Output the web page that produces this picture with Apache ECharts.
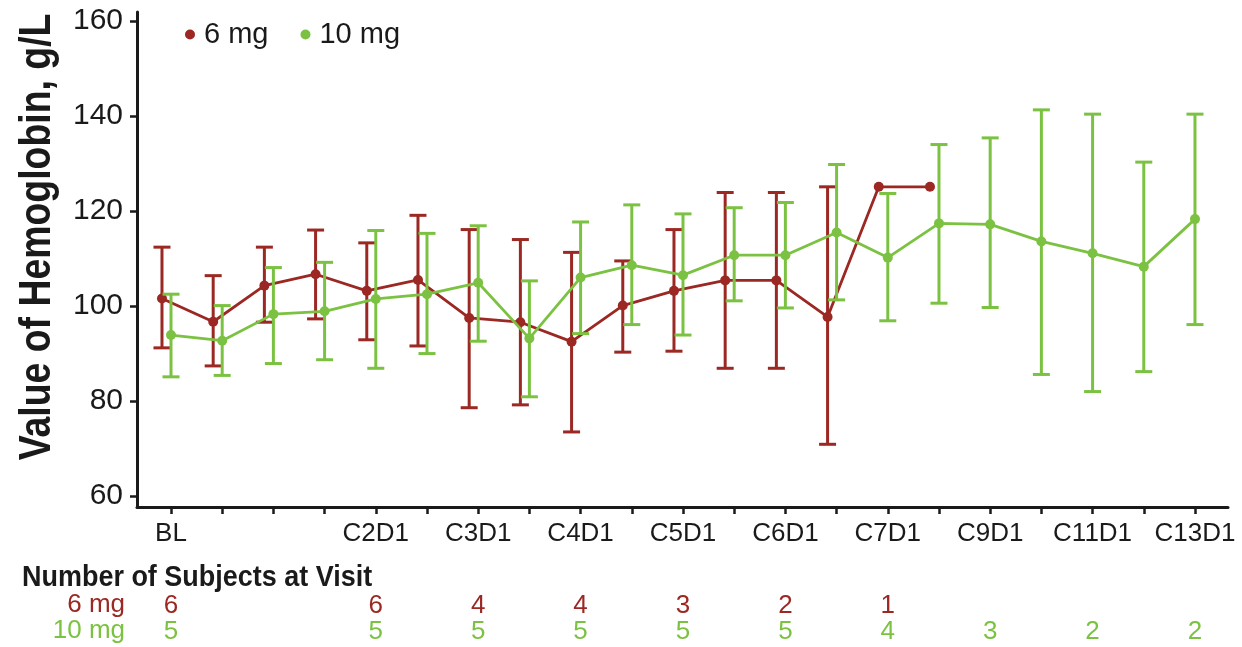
<!DOCTYPE html>
<html><head><meta charset="utf-8">
<script src="https://cdn.jsdelivr.net/npm/echarts@6/dist/echarts.min.js"></script>
<style>html,body{margin:0;padding:0;background:#fff}#c{width:1242px;height:647px}</style>
</head><body><div id="c"></div>
<script>
var visits = ['BL','C1D8','C1D15','C1D22','C2D1','C2D15','C3D1','C3D15','C4D1','C4D15','C5D1','C5D15','C6D1','C6D15','C7D1','C8D1','C9D1','C10D1','C11D1','C12D1','C13D1'];
var labeledVisits = [0,4,6,8,10,12,14,16,18,20];
var yTicks = [60,80,100,120,140,160];

var mean6 = [101.6, 96.7, 104.3, 106.7, 103.2, 105.5, 97.5, 96.6, 92.5, 100.1, 103.2, 105.4, 105.4, 97.7, 125.1, 125.1];
var low6  = [91.2, 87.4, 96.6, 97.3, 92.9, 91.6, 78.6, 79.2, 73.5, 90.3, 90.5, 86.9, 86.9, 70.9, null, null];
var high6 = [112.4, 106.4, 112.4, 116.0, 113.3, 119.1, 116.1, 114.0, 111.3, 109.5, 116.1, 123.9, 123.9, 125.1, null, null];

var mean10 = [93.9, 92.7, 98.3, 98.9, 101.5, 102.5, 104.9, 93.2, 106.0, 108.6, 106.5, 110.7, 110.7, 115.5, 110.2, 117.4, 117.2, 113.6, 111.1, 108.3, 118.3];
var low10  = [85.1, 85.4, 87.9, 88.7, 86.9, 90.0, 92.6, 80.9, 94.2, 96.1, 93.9, 101.1, 99.6, 101.3, 96.9, 100.6, 99.7, 85.6, 82.0, 86.2, 96.1];
var high10 = [102.5, 100.1, 108.1, 109.2, 115.9, 115.3, 116.9, 105.3, 117.7, 121.3, 119.4, 120.7, 121.8, 129.8, 123.7, 134.0, 135.4, 141.3, 140.4, 130.3, 140.4];

var nVisits6 = [0,4,6,8,10,12,14];
var n6 = [6,6,4,4,3,2,1];
var nVisits10 = [0,4,6,8,10,12,14,16,18,20];
var n10 = [5,5,5,5,5,5,4,3,2,2];

var RED = '#9b2823', GREEN = '#7cc242', INK = '#1a1a1a';
var FONT = '"Liberation Sans",Arial,sans-serif';
var OFF6 = -0.176, OFF10 = 0;

function pts(mean, off){ return mean.map(function(v,i){ return [i+off, v]; }); }
function bars(lo, hi, off){ var r=[]; lo.forEach(function(v,i){ if(v!=null && hi[i]!=null) r.push([i+off, v, hi[i]]); }); return r; }

function errRender(color){
  return function(params, api){
    var x = api.value(0);
    var p1 = api.coord([x, api.value(1)]);
    var p2 = api.coord([x, api.value(2)]);
    var hw = 8.5;
    var st = {stroke: color, lineWidth: 3};
    return {type:'group', children:[
      {type:'line', shape:{x1:p1[0], y1:p1[1], x2:p2[0], y2:p2[1]}, style:st},
      {type:'line', shape:{x1:p1[0]-hw, y1:p1[1], x2:p1[0]+hw, y2:p1[1]}, style:st},
      {type:'line', shape:{x1:p2[0]-hw, y1:p2[1], x2:p2[0]+hw, y2:p2[1]}, style:st}
    ]};
  };
}

var XMIN = -0.664, XMAX = 20.645;
function countAxis(offset, vis, counts, color){
  return {
    type:'value', min:XMIN, max:XMAX, position:'bottom', offset:offset,
    axisLine:{show:false, onZero:false}, axisTick:{show:false}, splitLine:{show:false},
    axisLabel:{customValues: vis, color: color, fontFamily: FONT, fontSize: 26, margin: 0,
      formatter: function(v){ var k = vis.indexOf(Math.round(v)); return k>=0 ? String(counts[k]) : ''; }}
  };
}

var chart = echarts.init(document.getElementById('c'), null, {renderer:'canvas'});
chart.setOption({
  animation:false,
  grid:{left:137, right:14, top:12, bottom:140, containLabel:false},
  legend:{
    left:180, top:15, itemWidth:10, itemHeight:10, itemGap:32, icon:'circle',
    textStyle:{fontFamily:FONT, fontSize:29, color:INK, padding:[0,0,0,4]},
    data:[{name:'6 mg', itemStyle:{color:RED}}, {name:'10 mg', itemStyle:{color:GREEN}}]
  },
  xAxis:[
    {type:'value', min:XMIN, max:XMAX, position:'bottom',
      axisLine:{show:true, onZero:false, lineStyle:{color:INK, width:3}},
      axisTick:{show:true, customValues: visits.map(function(_,i){return i;}), length:7, lineStyle:{color:INK, width:2.5}},
      axisLabel:{customValues: labeledVisits, color:INK, fontFamily:FONT, fontSize:26, margin:14,
        formatter:function(v){ return visits[Math.round(v)]; }},
      splitLine:{show:false}},
    countAxis(86, nVisits6, n6, RED),
    countAxis(112, nVisits10, n10, GREEN)
  ],
  yAxis:{type:'value', min:57.7, max:161.9,
    axisLine:{show:true, onZero:false, lineStyle:{color:INK, width:3}},
    axisTick:{show:true, customValues:yTicks, length:7, lineStyle:{color:INK, width:2.5}},
    axisLabel:{customValues:yTicks, color:INK, fontFamily:FONT, fontSize:30, margin:14},
    splitLine:{show:false}},
  graphic:[
    {type:'text', x:38, y:237, rotation:Math.PI/2, scaleX:0.85,
      style:{text:'Value of Hemoglobin, g/L', font:'bold 44px '+FONT, fill:INK, align:'center', verticalAlign:'middle'}},
    {type:'text', x:22, y:578, scaleX:0.93,
      style:{text:'Number of Subjects at Visit', font:'bold 29px '+FONT, fill:INK, align:'left', verticalAlign:'middle'}},
    {type:'text', x:125, y:605,
      style:{text:'6 mg', font:'26px '+FONT, fill:RED, align:'right', verticalAlign:'middle'}},
    {type:'text', x:125, y:631,
      style:{text:'10 mg', font:'26px '+FONT, fill:GREEN, align:'right', verticalAlign:'middle'}}
  ],
  series:[
    {type:'custom', name:'6 mg', xAxisIndex:0, renderItem:errRender(RED), data:bars(low6, high6, OFF6), encode:{x:0, y:[1,2]}, z:2, silent:true},
    {type:'line', name:'6 mg', xAxisIndex:0, data:pts(mean6, OFF6), symbol:'circle', symbolSize:10,
      itemStyle:{color:RED}, lineStyle:{color:RED, width:2.8}, z:3},
    {type:'custom', name:'10 mg', xAxisIndex:0, renderItem:errRender(GREEN), data:bars(low10, high10, OFF10), encode:{x:0, y:[1,2]}, z:4, silent:true},
    {type:'line', name:'10 mg', xAxisIndex:0, data:pts(mean10, OFF10), symbol:'circle', symbolSize:10,
      itemStyle:{color:GREEN}, lineStyle:{color:GREEN, width:2.8}, z:5}
  ]
});
</script></body></html>
